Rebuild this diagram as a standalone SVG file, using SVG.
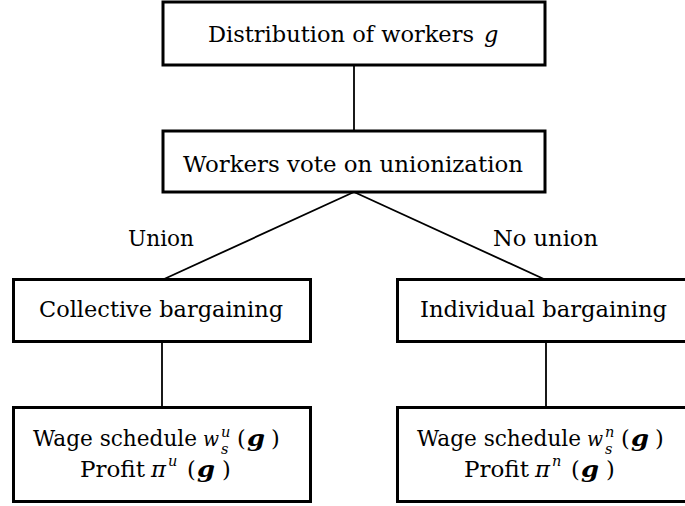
<svg xmlns="http://www.w3.org/2000/svg" width="685" height="506" viewBox="0 0 685 506">
<style>
.box{fill:#fff;stroke:#000;stroke-width:3}
.conn{stroke:#000;stroke-width:1.8;fill:none}
.t text{font-family:"DejaVu Serif",serif;font-size:22.5px;fill:#000}
.n{font-size:21.5px}
.i{font-style:italic}
.w{font-style:italic;font-size:20px}
.bi{font-style:italic;font-weight:bold}
.s{font-size:14.5px;font-style:italic}
</style>
<rect width="685" height="506" fill="#fff"/>
<g id="connectors">
<line class="conn" x1="354" y1="65" x2="354" y2="131"/>
<line class="conn" x1="354" y1="192" x2="162" y2="280"/>
<line class="conn" x1="354" y1="192" x2="546" y2="280"/>
<line class="conn" x1="162" y1="341" x2="162" y2="408"/>
<line class="conn" x1="546" y1="341" x2="546" y2="408"/>
</g>
<g id="edge-labels" class="t">
<text x="128" y="246" textLength="66" lengthAdjust="spacingAndGlyphs">Union</text>
<text x="493" y="246" textLength="105" lengthAdjust="spacingAndGlyphs">No union</text>
</g>
<g id="distribution" class="t">
<rect class="box" x="163" y="2" width="382" height="63"/>
<text y="42"><tspan x="208" textLength="266" lengthAdjust="spacingAndGlyphs">Distribution of workers</tspan><tspan class="i" x="484">g</tspan></text>
</g>
<g id="vote" class="t">
<rect class="box" x="163" y="131" width="382" height="61"/>
<text x="183" y="172" textLength="340" lengthAdjust="spacingAndGlyphs">Workers vote on unionization</text>
</g>
<g id="collective" class="t">
<rect class="box" x="13.5" y="279.5" width="297" height="62"/>
<text x="39" y="317" textLength="244" lengthAdjust="spacingAndGlyphs">Collective bargaining</text>
</g>
<g id="individual" class="t">
<rect class="box" x="397.5" y="279.5" width="297" height="62"/>
<text x="420" y="317" textLength="247" lengthAdjust="spacingAndGlyphs">Individual bargaining</text>
</g>
<g id="outcome-union" class="t">
<rect class="box" x="13.5" y="407.5" width="297" height="94"/>
<text y="446"><tspan class="n" x="33" textLength="164" lengthAdjust="spacingAndGlyphs">Wage schedule</tspan><tspan class="w" x="203" textLength="16" lengthAdjust="spacingAndGlyphs">w</tspan><tspan class="s" x="221" y="437">u</tspan><tspan class="s" x="221" y="454">s</tspan><tspan x="237" y="446">(</tspan><tspan class="bi" x="247" textLength="18" lengthAdjust="spacingAndGlyphs">g</tspan><tspan x="271">)</tspan></text>
<text y="477"><tspan x="80" textLength="65" lengthAdjust="spacingAndGlyphs">Profit</tspan><tspan class="i" x="151" textLength="15" lengthAdjust="spacingAndGlyphs">π</tspan><tspan class="s" x="168" y="466">u</tspan><tspan x="187" y="477">(</tspan><tspan class="bi" x="197" textLength="18" lengthAdjust="spacingAndGlyphs">g</tspan><tspan x="222">)</tspan></text>
</g>
<g id="outcome-nounion" class="t">
<rect class="box" x="397.5" y="407.5" width="297" height="94"/>
<text y="446"><tspan class="n" x="417" textLength="164" lengthAdjust="spacingAndGlyphs">Wage schedule</tspan><tspan class="w" x="587" textLength="16" lengthAdjust="spacingAndGlyphs">w</tspan><tspan class="s" x="605" y="437">n</tspan><tspan class="s" x="605" y="454">s</tspan><tspan x="621" y="446">(</tspan><tspan class="bi" x="631" textLength="18" lengthAdjust="spacingAndGlyphs">g</tspan><tspan x="655">)</tspan></text>
<text y="477"><tspan x="464" textLength="65" lengthAdjust="spacingAndGlyphs">Profit</tspan><tspan class="i" x="535" textLength="15" lengthAdjust="spacingAndGlyphs">π</tspan><tspan class="s" x="552" y="466">n</tspan><tspan x="571" y="477">(</tspan><tspan class="bi" x="581" textLength="18" lengthAdjust="spacingAndGlyphs">g</tspan><tspan x="606">)</tspan></text>
</g>
</svg>
